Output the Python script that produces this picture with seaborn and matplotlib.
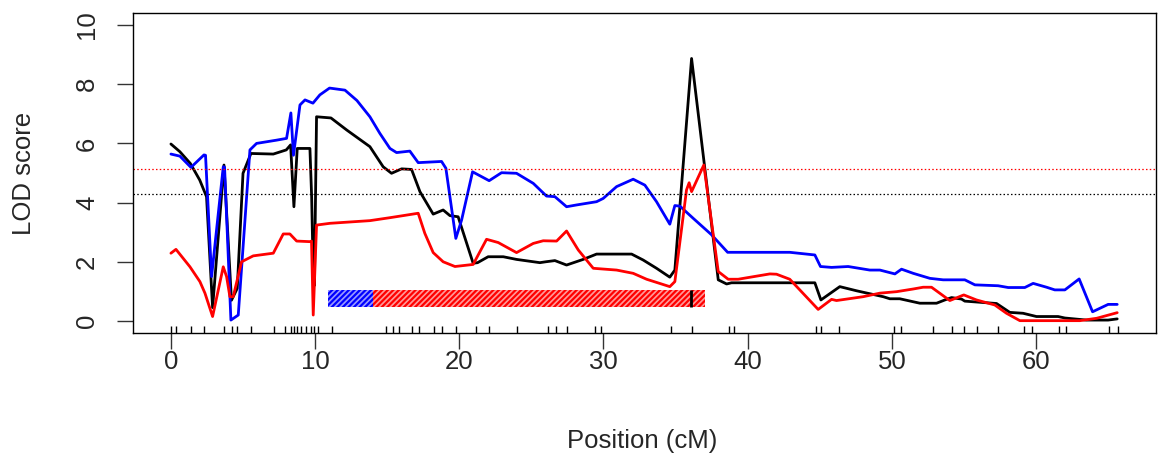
import matplotlib
matplotlib.use("Agg")
import matplotlib.pyplot as plt
import seaborn as sns
import numpy as np
from matplotlib.patches import Rectangle

# ---- data ----
black_pos = [0, 0.62, 1.35, 2.0, 2.47, 2.89, 3.68, 4.2, 4.6, 5.0, 5.55, 7.1, 8.0, 8.3, 8.53, 8.76,
             9.64, 9.76, 9.87, 9.95, 10.1, 11.1, 12.2, 13.8, 14.72, 15.3, 16.0, 16.69, 17.27, 18.19,
             18.88, 19.35, 19.92, 20.96, 21.27, 22.0, 23.05, 23.97, 25.59, 26.0, 26.63, 27.44, 28.59,
             29.52, 31.95, 32.75, 33.68, 34.6, 34.95, 36.11, 37.96, 38.54, 38.88, 44.66, 45.08, 46.39,
             47.55, 49.4, 49.86, 50.55, 51.94, 53.1, 53.68, 54.14, 54.83, 55.06, 57.26, 58.18, 59.1,
             60.03, 61.53, 62.0, 63.5, 65.0, 65.63]
black_lod = [5.98, 5.72, 5.32, 4.76, 4.2, 0.45, 5.27, 0.7, 1.1, 4.99, 5.66, 5.64, 5.78, 5.95, 3.86, 5.83,
             5.83, 4.2, 1.6, 1.2, 6.9, 6.86, 6.45, 5.89, 5.21, 4.99, 5.14, 5.12, 4.37, 3.61,
             3.75, 3.56, 3.52, 1.95, 1.97, 2.17, 2.17, 2.08, 1.97, 2.0, 2.04, 1.89, 2.08,
             2.26, 2.26, 2.06, 1.78, 1.48, 1.72, 8.87, 1.39, 1.25, 1.29, 1.29, 0.71, 1.16,
             1.02, 0.82, 0.75, 0.75, 0.6, 0.6, 0.71, 0.79, 0.74, 0.67, 0.59, 0.29, 0.26,
             0.15, 0.15, 0.1, 0.03, 0.03, 0.07]

blue_pos = [0, 0.62, 1.39, 2.29, 2.4, 2.82, 3.63, 3.72, 4.16, 4.67, 5.48, 5.94, 7.33, 8.02, 8.32, 8.5,
            8.95, 9.3, 9.85, 10.33, 11.0, 12.07, 12.9, 13.8, 14.49, 15.19, 15.65, 16.57, 17.15, 18.77,
            19.07, 19.76, 20.16, 20.92, 22.07, 22.93, 23.97, 25.13, 26.05, 26.63, 27.44, 28.13, 29.52,
            29.98, 30.91, 32.06, 32.87, 33.68, 34.6, 34.95, 35.3, 36.22, 37.5, 38.61, 42.92, 44.66,
            45.05, 45.82, 46.97, 48.47, 49.17, 50.21, 50.67, 51.48, 52.64, 53.56, 55.06, 55.76, 57.37,
            58.07, 59.22, 59.8, 60.73, 61.3, 62.0, 62.99, 63.92, 65.0, 65.63]
blue_lod = [5.64, 5.57, 5.19, 5.61, 5.6, 1.5, 5.21, 5.2, 0.03, 0.2, 5.78, 6.0, 6.11, 6.17, 7.03, 5.6,
            7.3, 7.47, 7.36, 7.64, 7.87, 7.8, 7.45, 6.9, 6.34, 5.83, 5.69, 5.74, 5.35, 5.39,
            5.16, 2.79, 3.41, 5.04, 4.74, 5.01, 4.99, 4.65, 4.22, 4.2, 3.86, 3.92, 4.03,
            4.14, 4.54, 4.79, 4.59, 4.03, 3.27, 3.9, 3.88, 3.47, 2.91, 2.32, 2.32, 2.23,
            1.84, 1.81, 1.84, 1.72, 1.72, 1.59, 1.75, 1.61, 1.44, 1.39, 1.39, 1.22, 1.19,
            1.13, 1.13, 1.27, 1.14, 1.05, 1.05, 1.42, 0.31, 0.56, 0.56]

red_pos = [0, 0.35, 1.32, 2.01, 2.36, 2.89, 3.63, 3.86, 4.09, 4.32, 4.9, 5.71, 7.1, 7.79, 8.25, 8.72,
           9.64, 9.75, 9.87, 10.1, 11.03, 13.8, 15.19, 16.11, 17.15, 17.61, 18.19, 18.88, 19.7, 20.96,
           21.89, 22.7, 23.97, 25.13, 25.82, 26.75, 27.44, 28.25, 29.29, 30.91, 32.06, 32.99, 34.6,
           34.95, 35.76, 35.94, 36.11, 36.96, 37.96, 38.65, 39.34, 41.54, 42.0, 42.92, 44.89, 45.82,
           46.16, 48.01, 49.17, 50.33, 51.48, 52.17, 52.75, 54.02, 54.99, 55.87, 57.14, 57.95, 58.88,
           63.04, 64.2, 65.63]
red_lod = [2.29, 2.42, 1.83, 1.33, 0.94, 0.15, 1.83, 1.5, 0.82, 0.82, 2.0, 2.2, 2.29, 2.94, 2.94, 2.7,
           2.68, 2.7, 0.2, 3.24, 3.3, 3.39, 3.49, 3.56, 3.64, 2.96, 2.31, 2.0, 1.84, 1.91,
           2.76, 2.65, 2.31, 2.62, 2.71, 2.7, 3.04, 2.4, 1.78, 1.72, 1.61, 1.41, 1.16,
           1.33, 4.43, 4.67, 4.37, 5.27, 1.67, 1.41, 1.41, 1.59, 1.58, 1.41, 0.39, 0.73,
           0.69, 0.82, 0.94, 0.99, 1.08, 1.14, 1.14, 0.69, 0.88, 0.71, 0.54, 0.26, 0.01,
           0.01, 0.09, 0.28]

markers = [0, 0.35, 1.39, 2.31, 3.68, 4.21, 4.6, 5.53, 7.16, 7.9, 8.3, 8.53, 8.76, 9.02, 9.34, 9.69,
           9.92, 10.21, 11.14, 14.9, 15.37, 15.83, 16.69, 17.2, 18.24, 18.82, 19.76, 21.15, 22.03,
           23.97, 26.17, 26.68, 27.44, 29.4, 29.82, 34.65, 36.15, 38.7, 39.04, 44.73, 45.08, 46.36,
           50.15, 50.6, 52.82, 54.14, 55.0, 55.92, 57.38, 59.15, 59.73, 61.6, 62.07, 65.07, 65.69]

thr_red = 5.14
thr_black = 4.3

ci_blue = (10.9, 14.0)
ci_red = (14.0, 37.03)
ci_lod = (0.46, 1.05)
ci_peak = 36.04

# ---- plot ----
sns.set_style("ticks")
plt.rcParams['font.family'] = ['Liberation Sans', 'DejaVu Sans']
plt.rcParams['hatch.linewidth'] = 1.6

fig = plt.figure(figsize=(11.6, 4.57), dpi=100)
ax = fig.add_axes([133/1160, (457-332.8)/457, 1023/1160, 319.6/457])

lw = 2.0
sns.lineplot(x=black_pos, y=black_lod, color='black', lw=lw, ax=ax, sort=False, estimator=None)
sns.lineplot(x=blue_pos, y=blue_lod, color='#0000ff', lw=lw, ax=ax, sort=False, estimator=None)
sns.lineplot(x=red_pos, y=red_lod, color='#ff0000', lw=lw, ax=ax, sort=False, estimator=None)

ax.axhline(thr_red, color='#ff0000', lw=0.9, ls=(0, (1.2, 1.8)))
ax.axhline(thr_black, color='black', lw=0.9, ls=(0, (1.2, 1.8)))

ax.add_patch(Rectangle((ci_blue[0], ci_lod[0]), ci_blue[1]-ci_blue[0], ci_lod[1]-ci_lod[0],
                       facecolor='#9999ff', edgecolor='#0000ff', hatch='//////', lw=0))
ax.add_patch(Rectangle((ci_red[0], ci_lod[0]), ci_red[1]-ci_red[0], ci_lod[1]-ci_lod[0],
                       facecolor='#ff9999', edgecolor='#ff0000', hatch='//////', lw=0))
ax.vlines(ci_peak, ci_lod[0]+0.02, ci_lod[1]-0.02, color='black', lw=2)

sns.rugplot(x=markers, height=0.021, ax=ax, color='black', lw=1.1, expand_margins=False)

ax.set_xlim(-2.63, 68.32)
ax.set_ylim(-0.4, 10.4)
ax.set_xticks([0, 10, 20, 30, 40, 50, 60])
ax.set_yticks([0, 2, 4, 6, 8, 10])
for s in ax.spines.values():
    s.set_visible(True)
    s.set_linewidth(1.0)
    s.set_color('black')
ax.tick_params(axis='both', length=11.5, width=1.0, labelsize=18.5, color='#333333')
ax.tick_params(axis='x', pad=1)
ax.tick_params(axis='y', pad=13)
for t in ax.get_yticklabels():
    t.set_rotation(90)
    t.set_va('center')

ax.set_xlabel('Position (cM)', fontsize=18.5, va='center')
ax.set_ylabel('LOD score', fontsize=18.5, va='center')
ax.xaxis.set_label_coords((642-133)/1023, (332.8-441)/319.6)
ax.yaxis.set_label_coords((24-133)/1023, (332.8-173)/319.6)

fig.savefig('out.png', dpi=100)
